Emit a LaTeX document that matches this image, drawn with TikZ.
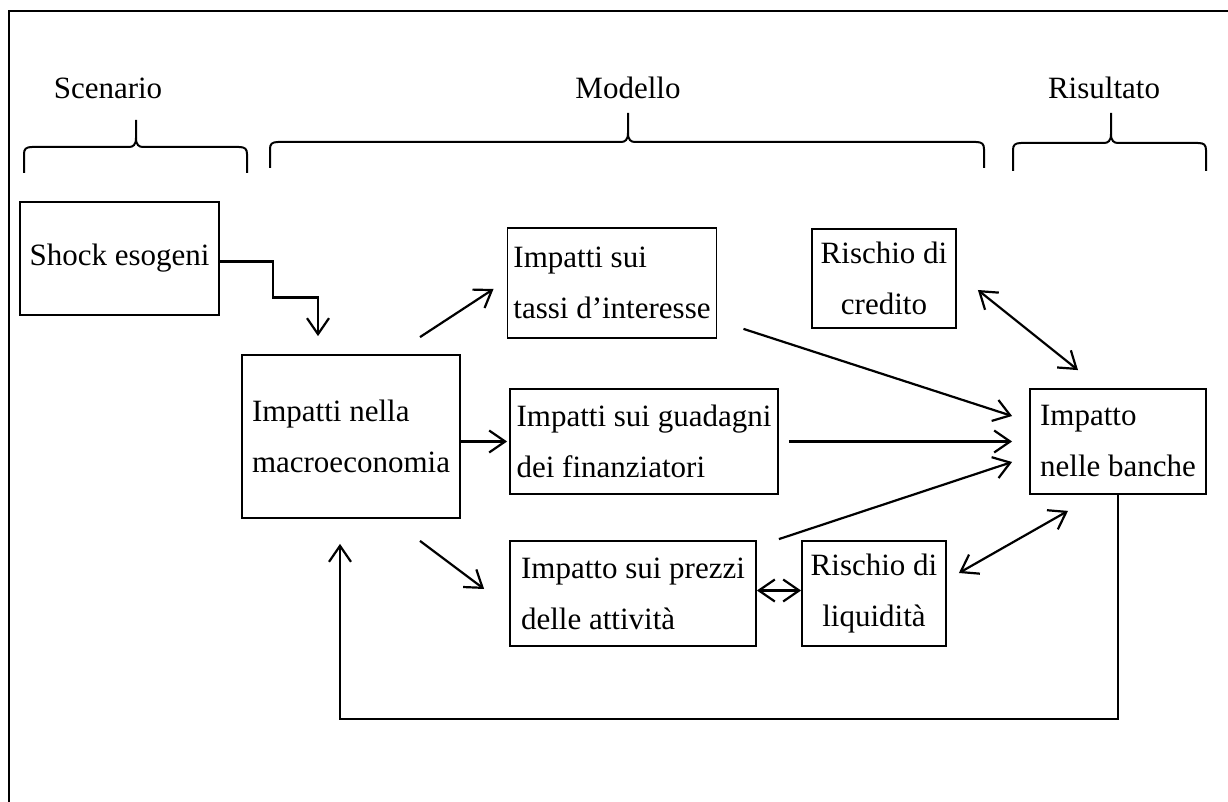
\documentclass[tikz,border=0pt]{standalone}
\usepackage{fontspec}
\setmainfont{Liberation Serif}
\usetikzlibrary{arrows.meta,calc}

\tikzset{
  box/.style={draw, line width=0.9pt, inner sep=3pt, align=left,
    font=\fontsize{15.5}{25.5}\selectfont},
  riskbox/.style={box, align=center},
  arr/.style={line width=1.1pt, -{Straight Barb[length=8pt,width=11pt]}},
  biarr/.style={line width=1.1pt, {Straight Barb[length=8pt,width=11pt]}-{Straight Barb[length=8pt,width=11pt]}},
  head/.style={font=\fontsize{15.5}{18}\selectfont}
}

% brace over a group: left x, spike x, right x, line y, end y, spike y
\newcommand{\groupbrace}[6]{%
  \draw[line width=1pt] (#1,#5) -- (#1,#4+7) .. controls (#1,#4+2) and (#1+2,#4) .. (#1+8,#4)
    -- (#2-7,#4) .. controls (#2-3,#4) and (#2,#4-2) .. (#2,#4-9) -- (#2,#6);
  \draw[line width=1pt] (#3,#5) -- (#3,#4+7) .. controls (#3,#4+2) and (#3-2,#4) .. (#3-8,#4)
    -- (#2+7,#4) .. controls (#2+3,#4) and (#2,#4-2) .. (#2,#4-9);
}

\begin{document}
\begin{tikzpicture}[x=0.5pt, y=-0.5pt]
  \useasboundingbox (0,0) rectangle (1228,802);
  \draw[line width=1.2pt] (9,802) -- (9,11) -- (1228,11);

  \node[head] (scen) at (108,88) {Scenario};
  \node[head] (mod) at (628,88) {Modello};
  \node[head] (ris) at (1104,88) {Risultato};
  \groupbrace{24}{136}{247}{147}{173}{120}
  \groupbrace{270}{628}{984}{142}{168}{113}
  \groupbrace{1013}{1111}{1206}{143}{171}{113}

  \node[box, minimum width=99.5pt, minimum height=56.5pt] (shock) at (119.5,258.5) {Shock esogeni};
  \node[box, minimum width=109pt, minimum height=81.5pt] (macro) at (351,436.5) {Impatti nella\\macroeconomia};
  \node[box, minimum width=102pt, minimum height=55pt] (tassi) at (612,283) {Impatti sui\\tassi d’interesse};
  \node[riskbox, minimum width=72pt, minimum height=49.5pt] (credito) at (884,278.5) {Rischio di\\credito};
  \node[box, minimum width=134pt, minimum height=52.5pt] (guadagni) at (644,441.5) {Impatti sui guadagni\\dei finanziatori};
  \node[box, minimum width=88pt, minimum height=52.5pt] (banche) at (1118,441.5) {Impatto\\nelle banche};
  \node[box, minimum width=123pt, minimum height=52.5pt] (prezzi) at (633,593.5) {Impatto sui prezzi\\delle attività};
  \node[riskbox, minimum width=72pt, minimum height=52.5pt] (liquidita) at (874,593.5) {Rischio di\\liquidità};

  \draw[arr] ([yshift=-1.5pt]shock.east) -- ++(53,0) -- ++(0,36) -| ([shift={(-33,-18)}]macro.north);
  \draw[arr] ([shift={(69,-17)}]macro.north) -- ([shift={(-13,6)}]tassi.west);
  \draw[arr] (macro.east |- guadagni.west) -- ([xshift=-1pt]guadagni.west);
  \draw[arr] ([shift={(69,22)}]macro.south) -- ([shift={(-25,-4.5)}]prezzi.west);
  \draw[arr] ([shift={(26,-10)}]tassi.south east) -- ([shift={(-17,-25.5)}]banche.west);
  \draw[arr] ([xshift=5pt]guadagni.east) -- ([xshift=-8.5pt]banche.west);
  \draw[arr] ([shift={(22,-1)}]prezzi.north east) -- ([shift={(-17,20.5)}]banche.west);
  \draw[biarr] ([shift={(21,11.5)}]credito.east) -- ([shift={(-40,-18)}]banche.north);
  \draw[biarr] ([shift={(12,-20.5)}]liquidita.east) -- ([shift={(-50,16)}]banche.south);
  \draw[biarr] ([yshift=1.5pt]prezzi.east) -- ([yshift=1.5pt]liquidita.west);
  \draw[arr] (banche.south) -- ++(0,224) -| ([shift={(-11,25)}]macro.south);
\end{tikzpicture}
\end{document}
